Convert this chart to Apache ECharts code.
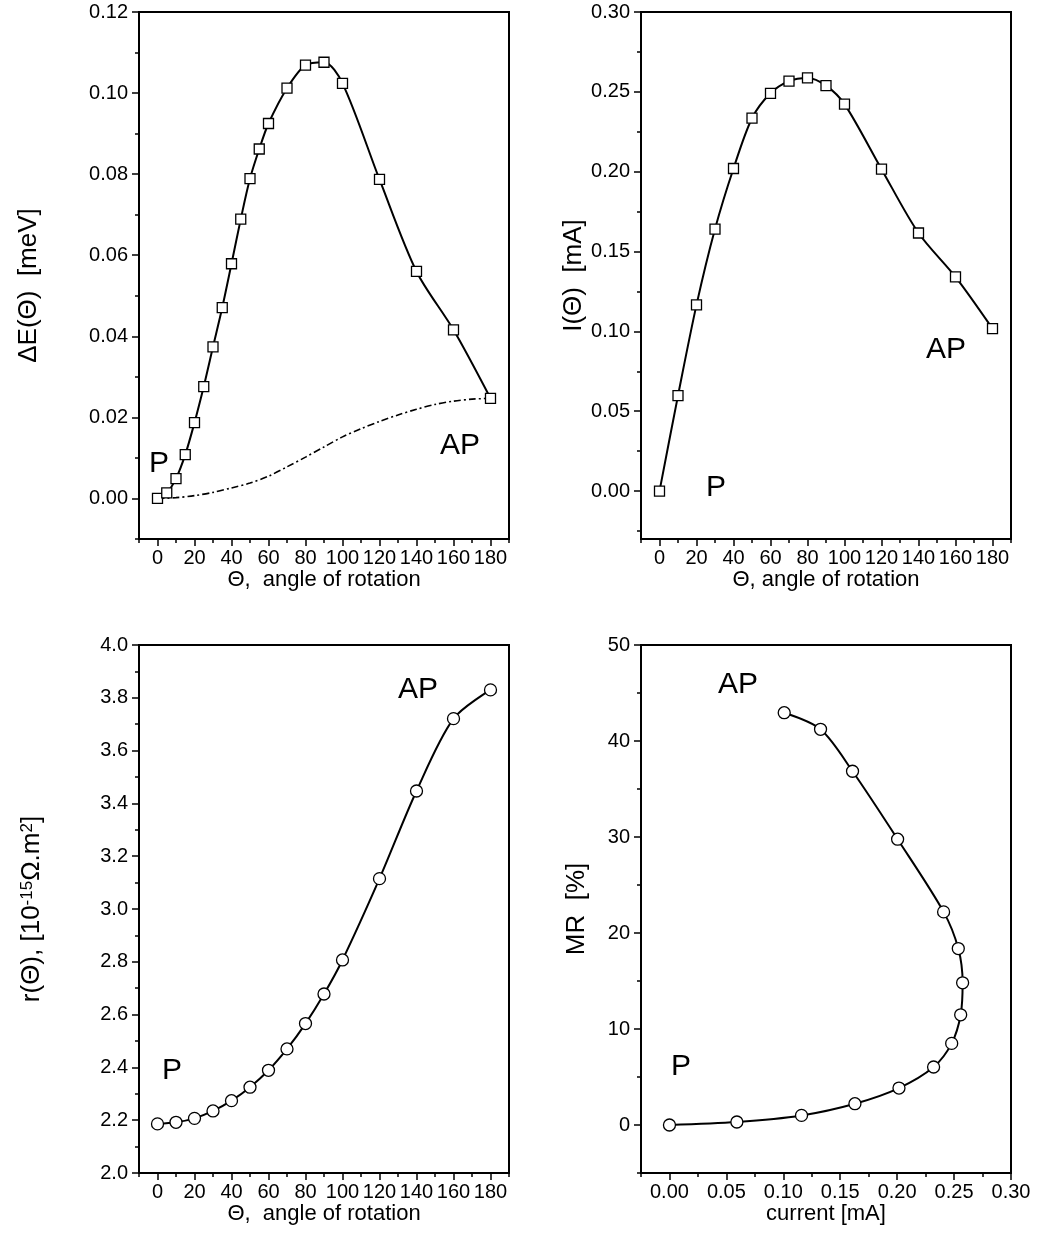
<!DOCTYPE html>
<html><head><meta charset="utf-8">
<script src="https://cdn.jsdelivr.net/npm/echarts@6/dist/echarts.min.js"></script>
<style>html,body{margin:0;padding:0;background:#fff}#c{width:1038px;height:1257px}</style>
</head><body><div id="c"></div>
<script>
// ---------- data ----------
const thetaE = [0,5,10,15,20,25,30,35,40,45,50,55,60,70,80,90,100,120,140,160,180];
const deltaE = [0.0000,0.0014,0.0049,0.0108,0.0187,0.0276,0.0374,0.0471,0.0579,0.0689,0.0789,0.0862,0.0925,0.1012,0.1069,0.1076,0.1024,0.0787,0.0560,0.0416,0.0247];
const thetaRef = [0,10,20,30,40,50,60,70,80,90,100,110,120,130,140,150,160,170,180];
const deltaERef = [0.0000,0.0002,0.0007,0.0015,0.0026,0.0038,0.0055,0.0078,0.0102,0.0127,0.0152,0.0172,0.0190,0.0206,0.0220,0.0232,0.0240,0.0245,0.0247];
const theta = [0,10,20,30,40,50,60,70,80,90,100,120,140,160,180];
const currentI = [0.000,0.0598,0.1166,0.1641,0.2020,0.2335,0.2491,0.2567,0.2587,0.2539,0.2423,0.2016,0.1616,0.1341,0.1017];
const resist = [2.186,2.192,2.207,2.235,2.274,2.325,2.389,2.470,2.566,2.678,2.807,3.115,3.447,3.721,3.830];
const mrCurrent = [0.000,0.0592,0.1160,0.1629,0.2016,0.2320,0.2479,0.2558,0.2575,0.2537,0.2408,0.2004,0.1608,0.1327,0.1008];
const mrValue = [0.0,0.31,1.0,2.22,3.85,6.04,8.5,11.48,14.81,18.38,22.2,29.77,36.85,41.22,42.95];

// tick values
const xMajorTheta = [0,20,40,60,80,100,120,140,160,180];
const xMinorTheta = [-10,10,30,50,70,90,110,130,150,170,190];
const yMajorE = [0,0.02,0.04,0.06,0.08,0.10,0.12];
const yMinorE = [-0.01,0.01,0.03,0.05,0.07,0.09,0.11];
const yMajorI = [0,0.05,0.10,0.15,0.20,0.25,0.30];
const yMinorI = [-0.025,0.025,0.075,0.125,0.175,0.225,0.275];
const yMajorR = [2.0,2.2,2.4,2.6,2.8,3.0,3.2,3.4,3.6,3.8,4.0];
const yMinorR = [2.1,2.3,2.5,2.7,2.9,3.1,3.3,3.5,3.7,3.9];
const xMajorCur = [0,0.05,0.10,0.15,0.20,0.25,0.30];
const xMinorCur = [-0.025,0.025,0.075,0.125,0.175,0.225,0.275];
const yMajorMR = [0,10,20,30,40,50];
const yMinorMR = [-5,5,15,25,35,45];

// ---------- layout / style ----------
const FONT = '"Liberation Sans", Arial, sans-serif';
const TICKFS = 20, XNAMEFS = 22, YNAMEFS = 26, NOTEFS = 30;

const panels = [
  {grid:{left:139,top:12,width:370,height:527},
   x:{min:-10,max:190,major:xMajorTheta,minor:xMinorTheta,fmt:v=>v.toFixed(0),name:'Θ,  angle of rotation'},
   y:{min:-0.01,max:0.12,major:yMajorE,minor:yMinorE,fmt:v=>v.toFixed(2),name:'ΔE(Θ)  [meV]',gap:97,pad:[0,20,0,0]}},
  {grid:{left:641,top:12,width:370,height:527},
   x:{min:-10,max:190,major:xMajorTheta,minor:xMinorTheta,fmt:v=>v.toFixed(0),name:'Θ, angle of rotation'},
   y:{min:-0.03,max:0.30,major:yMajorI,minor:yMinorI,fmt:v=>v.toFixed(2),name:'I(Θ)  [mA]',gap:51,pad:[0,0,0,0]}},
  {grid:{left:139,top:645,width:370,height:528},
   x:{min:-10,max:190,major:xMajorTheta,minor:xMinorTheta,fmt:v=>v.toFixed(0),name:'Θ,  angle of rotation'},
   y:{min:2.0,max:4.0,major:yMajorR,minor:yMinorR,fmt:v=>v.toFixed(1),name:'{n|r(Θ), [10}{s|-15}{n|Ω.m}{s|2}{n|]}',gap:94,pad:[0,0,0,0]}},
  {grid:{left:641,top:645,width:370,height:528},
   x:{min:-0.025,max:0.30,major:xMajorCur,minor:xMinorCur,fmt:v=>v.toFixed(2),name:'current [mA]'},
   y:{min:-5,max:50,major:yMajorMR,minor:yMinorMR,fmt:v=>v.toFixed(0),name:'MR  [%]',gap:51,pad:[0,0,0,0]}}
];

const grids = [], xAxes = [], yAxes = [];
const rich = {n:{fontSize:YNAMEFS, fontFamily:FONT, color:'#000'},
              s:{fontSize:17, fontFamily:FONT, color:'#000', verticalAlign:'top'}};

panels.forEach((p, i) => {
  grids.push(Object.assign({show:true, borderColor:'#000', borderWidth:2, backgroundColor:'transparent', containLabel:false}, p.grid));
  ['x','y'].forEach(dim => {
    const a = p[dim];
    const pos = dim === 'x' ? 'bottom' : 'left';
    const nameTextStyle = dim === 'x'
      ? {color:'#000', fontSize:XNAMEFS, fontFamily:FONT}
      : {color:'#000', fontSize:YNAMEFS, fontFamily:FONT, padding:a.pad, rich};
    const main = {
      type:'value', gridIndex:i, min:a.min, max:a.max, position:pos,
      axisLine:{show:true, onZero:false, lineStyle:{color:'#000', width:2}},
      axisTick:{show:true, inside:false, length:7, customValues:a.major, lineStyle:{color:'#000', width:1.5}},
      axisLabel:{show:true, customValues:a.major, formatter:a.fmt, color:'#000', fontSize:TICKFS, fontFamily:FONT, margin: dim==='x'?9:11},
      splitLine:{show:false},
      name:a.name, nameLocation:'middle', nameGap: dim==='x' ? 27 : a.gap, nameTextStyle
    };
    const minor = {
      type:'value', gridIndex:i, min:a.min, max:a.max, position:pos,
      axisLine:{show:false, onZero:false},
      axisTick:{show:true, inside:false, length:4, customValues:a.minor, lineStyle:{color:'#000', width:1.5}},
      axisLabel:{show:false}, splitLine:{show:false}
    };
    (dim === 'x' ? xAxes : yAxes).push(main, minor);
  });
});

const pairs = (xs, ys) => xs.map((x, k) => [x, ys[k]]);
const sq = {symbol:'rect', symbolSize:10, itemStyle:{color:'#fff', borderColor:'#000', borderWidth:1.3}};
const ci = {symbol:'circle', symbolSize:12, itemStyle:{color:'#fff', borderColor:'#000', borderWidth:1.3}};
const line = {color:'#000', width:2};

const series = [
  {type:'line', xAxisIndex:0, yAxisIndex:0, data:pairs(thetaRef, deltaERef), smooth:0.3, symbol:'none',
   lineStyle:{color:'#000', width:1.6, type:[7,3,2,3]}},
  Object.assign({type:'line', xAxisIndex:0, yAxisIndex:0, data:pairs(thetaE, deltaE), smooth:0.3, lineStyle:line}, sq),
  Object.assign({type:'line', xAxisIndex:2, yAxisIndex:2, data:pairs(theta, currentI), smooth:0.3, lineStyle:line}, sq),
  Object.assign({type:'line', xAxisIndex:4, yAxisIndex:4, data:pairs(theta, resist), smooth:0.3, lineStyle:line}, ci),
  Object.assign({type:'line', xAxisIndex:6, yAxisIndex:6, data:pairs(mrCurrent, mrValue), smooth:0.3, lineStyle:line}, ci)
];

const notes = [
  {t:'P', x:159, y:464}, {t:'AP', x:460, y:446},
  {t:'P', x:716, y:488}, {t:'AP', x:946, y:350},
  {t:'AP', x:418, y:690}, {t:'P', x:172, y:1071},
  {t:'AP', x:738, y:685}, {t:'P', x:681, y:1067}
];
const graphic = notes.map(n => ({type:'text', x:n.x, y:n.y, silent:true,
  style:{text:n.t, fill:'#000', font:NOTEFS + 'px ' + FONT, textAlign:'center', textVerticalAlign:'middle'}}));

const chart = echarts.init(document.getElementById('c'), null, {renderer:'canvas'});
chart.setOption({
  animation:false, backgroundColor:'#fff',
  grid:grids, xAxis:xAxes, yAxis:yAxes, series, graphic
});
</script></body></html>
